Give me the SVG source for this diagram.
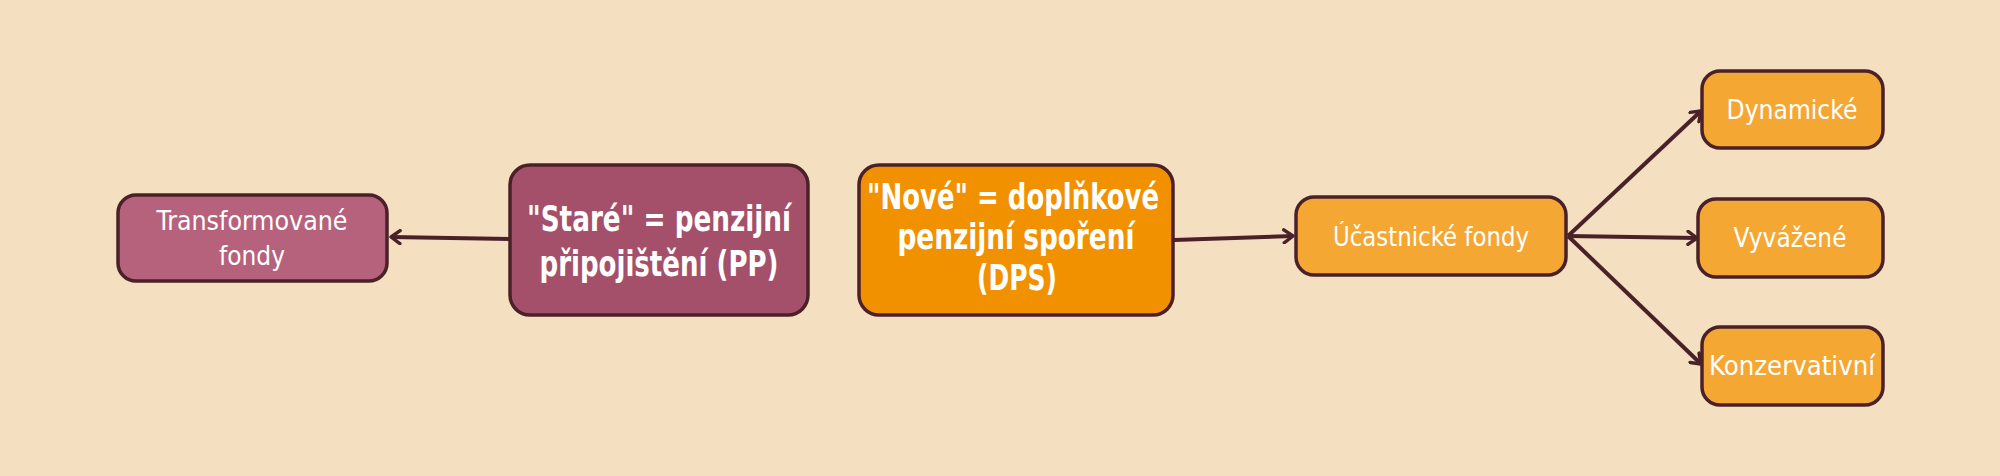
<svg xmlns="http://www.w3.org/2000/svg" width="2000" height="476" viewBox="0 0 2000 476">
<defs>
<marker id="ah" viewBox="0 0 16 16" refX="13" refY="8" markerWidth="16" markerHeight="16" markerUnits="userSpaceOnUse" orient="auto">
<path d="M4,1.5 L13,8 L4,14.5" fill="none" stroke="#4a2029" stroke-width="3.4" stroke-linecap="round" stroke-linejoin="round"/>
</marker>
<style>
.n{stroke:#4a2029;stroke-width:3.5}
.t{font-family:"DejaVu Sans Condensed","Roboto","Liberation Sans",sans-serif;fill:#fff;text-anchor:middle;font-stretch:condensed}
.b{font-weight:bold;font-size:36px}
.s{font-size:27px}
.c{stroke:#4a2029;stroke-width:4;fill:none}
</style>
</defs>
<rect width="2000" height="476" fill="#f4e0c0"/>
<g id="connectors">
<line class="c" x1="510" y1="239" x2="391" y2="237" marker-end="url(#ah)"/>
<line class="c" x1="1174" y1="240" x2="1293" y2="236" marker-end="url(#ah)"/>
<line class="c" x1="1568" y1="236" x2="1701" y2="111" marker-end="url(#ah)"/>
<line class="c" x1="1568" y1="236" x2="1697" y2="238" marker-end="url(#ah)"/>
<line class="c" x1="1568" y1="236" x2="1701" y2="364" marker-end="url(#ah)"/>
</g>
<g id="transformovane">
<rect class="n" x="118" y="195" width="269" height="86" rx="18" fill="#b6627c"/>
<text class="t s" x="252" y="230" textLength="191" lengthAdjust="spacingAndGlyphs">Transformované</text>
<text class="t s" x="252" y="265" textLength="66" lengthAdjust="spacingAndGlyphs">fondy</text>
</g>
<g id="stare">
<rect class="n" x="510" y="165" width="298" height="150" rx="20" fill="#a4506a"/>
<text class="t b" x="659" y="231" textLength="264" lengthAdjust="spacingAndGlyphs">"Staré" = penzijní</text>
<text class="t b" x="659" y="276" textLength="239" lengthAdjust="spacingAndGlyphs">připojištění (PP)</text>
</g>
<g id="nove">
<rect class="n" x="859" y="165" width="314" height="150" rx="20" fill="#f29100"/>
<text class="t b" x="1013" y="209" textLength="292" lengthAdjust="spacingAndGlyphs">"Nové" = doplňkové</text>
<text class="t b" x="1016" y="249" textLength="237" lengthAdjust="spacingAndGlyphs">penzijní spoření</text>
<text class="t b" x="1017" y="290" textLength="80" lengthAdjust="spacingAndGlyphs">(DPS)</text>
</g>
<g id="ucastnicke">
<rect class="n" x="1296" y="197" width="270" height="78" rx="18" fill="#f5a733"/>
<text class="t s" x="1431" y="246" textLength="196" lengthAdjust="spacingAndGlyphs">Účastnické fondy</text>
</g>
<g id="dynamicke">
<rect class="n" x="1702" y="71" width="181" height="77" rx="18" fill="#f5a733"/>
<text class="t s" x="1792" y="119" textLength="131" lengthAdjust="spacingAndGlyphs">Dynamické</text>
</g>
<g id="vyvazene">
<rect class="n" x="1698" y="199" width="185" height="78" rx="18" fill="#f5a733"/>
<text class="t s" x="1790" y="247" textLength="113" lengthAdjust="spacingAndGlyphs">Vyvážené</text>
</g>
<g id="konzervativni">
<rect class="n" x="1702" y="327" width="181" height="78" rx="18" fill="#f5a733"/>
<text class="t s" x="1792" y="375" textLength="166" lengthAdjust="spacingAndGlyphs">Konzervativní</text>
</g>
</svg>
